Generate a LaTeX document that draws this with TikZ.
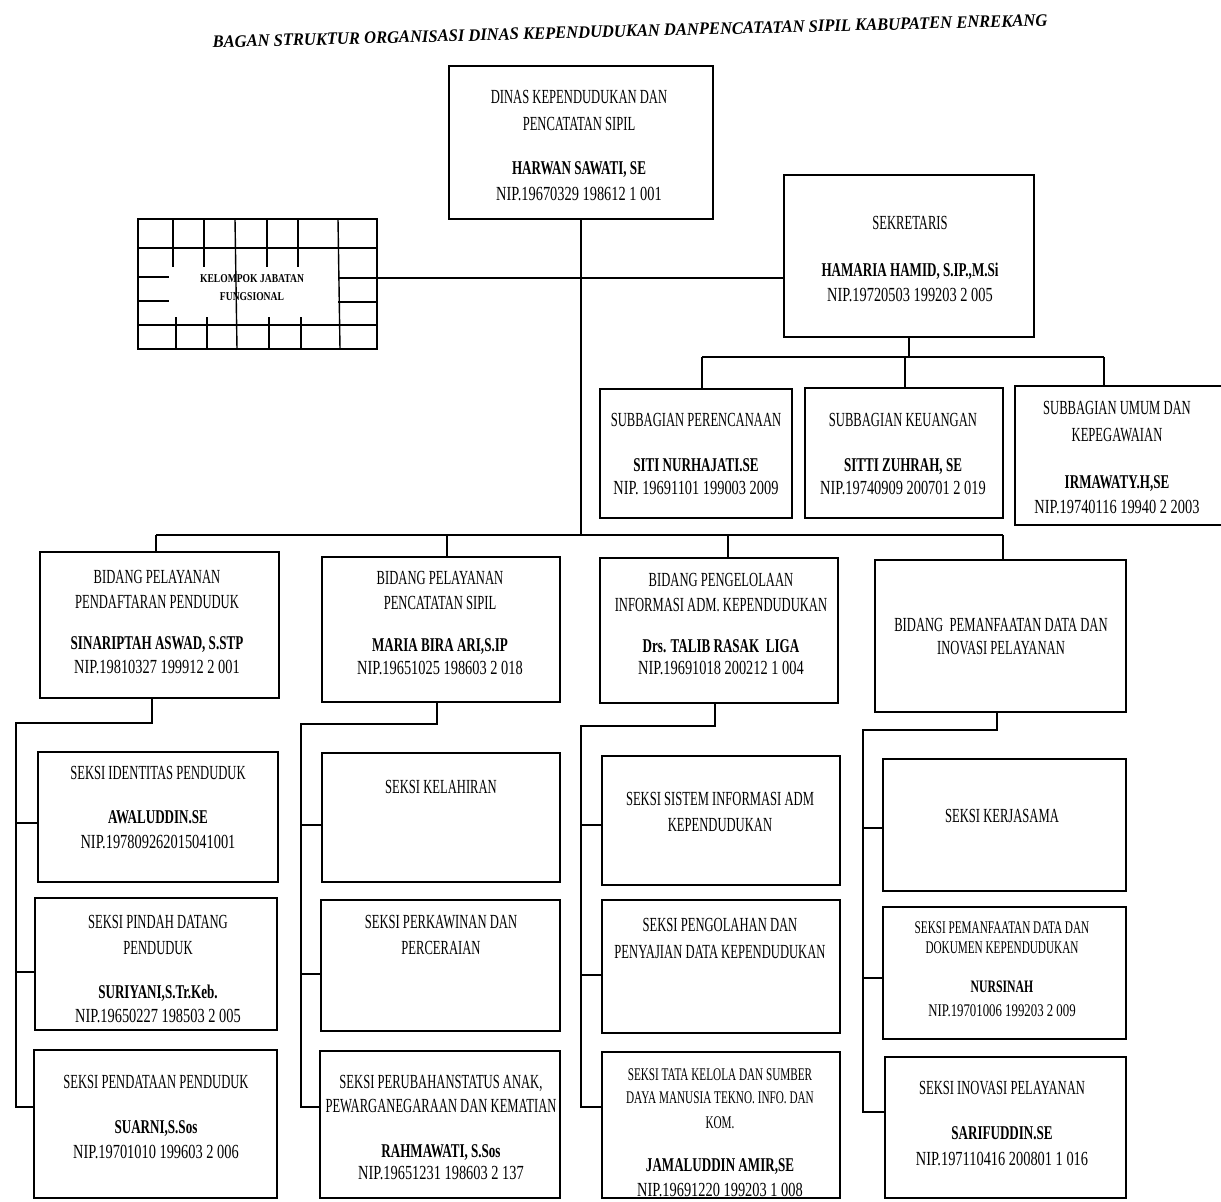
\documentclass[tikz,border=0pt]{standalone}
\usepackage{fontspec}
\setmainfont{Liberation Serif}[FakeStretch=0.63]
\newfontfamily\nipf{Liberation Serif}[FakeStretch=0.72]
\newfontfamily\namef{Liberation Serif}[FakeStretch=0.67]
\newfontfamily\titlef{Liberation Serif}[FakeStretch=0.945]
\newfontfamily\kelf{Liberation Serif}[FakeStretch=0.80]
\usetikzlibrary{fit}
\tikzset{
  box/.style={draw, line width=1.6pt, inner sep=0pt},
  openbox/.style={inner sep=0pt},
  conn/.style={line width=1.3pt},
  grid/.style={line width=1.4pt},
  tx/.style={inner sep=0pt, text height=13.2pt, text depth=0pt, font=\fontsize{20}{22}\selectfont},
  txs/.style={inner sep=0pt, text height=11.8pt, text depth=0pt, font=\fontsize{17.8}{20}\selectfont},
  nm/.style={inner sep=0pt, text height=12.9pt, text depth=0pt, font=\namef\bfseries\fontsize{19.5}{21}\selectfont},
  nms/.style={inner sep=0pt, text height=11.5pt, text depth=0pt, font=\namef\bfseries\fontsize{17.5}{19}\selectfont},
  nip/.style={inner sep=0pt, text height=13.2pt, text depth=0pt, font=\nipf\fontsize{20}{22}\selectfont},
  nips/.style={inner sep=0pt, text height=11.8pt, text depth=0pt, font=\nipf\fontsize{17.8}{20}\selectfont},
  kel/.style={inner sep=0pt, text height=8pt, text depth=0pt, font=\kelf\bfseries\fontsize{12}{14}\selectfont},
  ttl/.style={inner sep=0pt, text height=11.6pt, text depth=0pt, font=\titlef\bfseries\itshape\fontsize{17.5}{19}\selectfont}
}
\begin{document}
\begin{tikzpicture}[x=1pt,y=-1pt]
\fill[white] (0,0) rectangle (1221,1202);
\useasboundingbox (0,0) rectangle (1221,1202);

% title
\node[ttl, rotate=1.5] (title) at (630,31) {BAGAN STRUKTUR ORGANISASI DINAS KEPENDUDUKAN DANPENCATATAN SIPIL KABUPATEN ENREKANG};

% ---------- boxes ----------
\node[box, fit={(449,66) (713,219)}] (dinas) {};
\node[box, fit={(138,219) (377,349)}] (kel) {};
\node[box, fit={(784,175) (1034,337)}] (sek) {};
\node[box, fit={(600,389) (792,518)}] (sub1) {};
\node[box, fit={(805,388) (1003,518)}] (sub2) {};
\node[openbox, fit={(1015,386) (1221,525)}] (sub3) {};
\draw[line width=1.6pt] (sub3.north east) -- (sub3.north west) -- (sub3.south west) -- (sub3.south east);

\node[box, fit={(40,552) (279,698)}] (b1) {};
\node[box, fit={(322,557) (560,702)}] (b2) {};
\node[box, fit={(600,558) (838,703)}] (b3) {};
\node[box, fit={(875,560) (1126,712)}] (b4) {};

\node[box, fit={(38,752) (278,882)}] (s11) {};
\node[box, fit={(35,898) (277,1030)}] (s12) {};
\node[box, fit={(34,1050) (277,1198)}] (s13) {};
\node[box, fit={(322,753) (560,882)}] (s21) {};
\node[box, fit={(321,900) (560,1031)}] (s22) {};
\node[box, fit={(320,1051) (560,1198)}] (s23) {};
\node[box, fit={(602,756) (840,885)}] (s31) {};
\node[box, fit={(602,900) (840,1033)}] (s32) {};
\node[box, fit={(602,1052) (840,1198)}] (s33) {};
\node[box, fit={(883,759) (1126,891)}] (s41) {};
\node[box, fit={(883,907) (1126,1039)}] (s42) {};
\node[box, fit={(885,1057) (1126,1198)}] (s43) {};

% ---------- kelompok grid ----------
\coordinate (kg1) at (0,248);
\coordinate (kg2) at (0,325);
\draw[grid] (kel.west |- kg1) -- (kel.east |- kg1);
\draw[grid] (kel.west |- kg2) -- (kel.east |- kg2);
\foreach \gx in {173,204,267,298} \draw[grid] (\gx,219) -- (\gx,267);
\foreach \gx in {176,207,269,301} \draw[grid] (\gx,317) -- (\gx,349);
\draw[grid] (235,219) -- (237,349);
\draw[grid] (338,219) -- (340,349);
\draw[grid] (138,277) -- (169,277);
\draw[grid] (138,301) -- (169,301);
\draw[grid] (338,278) -- (377,278);
\draw[grid] (338,302) -- (377,302);
\node[kel] (kt1) at (252,278) {KELOMPOK JABATAN};
\node[kel] (kt2) at (252,296) {FUNGSIONAL};

% ---------- connectors ----------
\coordinate (lvl) at (0,278);
\coordinate (bus) at (0,535);
\draw[conn] (dinas.south) -- (dinas.south |- bus);
\draw[conn] (kel.east |- lvl) -- (sek.west |- lvl);

\coordinate (sbL) at (702,357);
\coordinate (sbM) at (905,357);
\coordinate (sbR) at (1104,357);
\draw[conn] (sek.south) -- (sek.south |- sbM);
\draw[conn] (sbL) -- (sbR);
\draw[conn] (sbL) -- (sbL |- sub1.north);
\draw[conn] (sbM) -- (sbM |- sub2.north);
\draw[conn] (sbR) -- (sbR |- sub3.north);

\coordinate (bb1) at (156,535);
\coordinate (bb2) at (447,535);
\coordinate (bb3) at (728,535);
\coordinate (bb4) at (1003,535);
\draw[conn] (bb1) -- (bb4);
\draw[conn] (bb1) -- (bb1 |- b1.north);
\draw[conn] (bb2) -- (bb2 |- b2.north);
\draw[conn] (bb3) -- (bb3 |- b3.north);
\draw[conn] (bb4) -- (bb4 |- b4.north);

% column 1
\coordinate (c1a) at (152,723);
\coordinate (c1b) at (16,723);
\coordinate (k11) at (16,823);
\coordinate (k12) at (16,972);
\coordinate (k13) at (16,1107);
\draw[conn] (c1a |- b1.south) -- (c1a) -- (c1b) -- (k13) -- (k13 -| s13.west);
\draw[conn] (k11) -- (k11 -| s11.west);
\draw[conn] (k12) -- (k12 -| s12.west);
% column 2
\coordinate (c2a) at (437,724);
\coordinate (c2b) at (301,724);
\coordinate (k21) at (301,825);
\coordinate (k22) at (301,974);
\coordinate (k23) at (301,1107);
\draw[conn] (c2a |- b2.south) -- (c2a) -- (c2b) -- (k23) -- (k23 -| s23.west);
\draw[conn] (k21) -- (k21 -| s21.west);
\draw[conn] (k22) -- (k22 -| s22.west);
% column 3
\coordinate (c3a) at (715,726);
\coordinate (c3b) at (581,726);
\coordinate (k31) at (581,825);
\coordinate (k32) at (581,975);
\coordinate (k33) at (581,1107);
\draw[conn] (c3a |- b3.south) -- (c3a) -- (c3b) -- (k33) -- (k33 -| s33.west);
\draw[conn] (k31) -- (k31 -| s31.west);
\draw[conn] (k32) -- (k32 -| s32.west);
% column 4
\coordinate (c4a) at (997,730);
\coordinate (c4b) at (863,730);
\coordinate (k41) at (863,828);
\coordinate (k42) at (863,978);
\coordinate (k43) at (863,1112);
\draw[conn] (c4a |- b4.south) -- (c4a) -- (c4b) -- (k43) -- (k43 -| s43.west);
\draw[conn] (k41) -- (k41 -| s41.west);
\draw[conn] (k42) -- (k42 -| s42.west);

% ---------- texts ----------
\node[tx] (d1) at (579,97) {DINAS KEPENDUDUKAN DAN};
\node[tx] (d2) at (579,124) {PENCATATAN SIPIL};
\node[nm] (d3) at (579,168) {HARWAN SAWATI, SE};
\node[nip] (d4) at (579,194) {NIP.19670329 198612 1 001};

\node[tx] (e1) at (910,223) {SEKRETARIS};
\node[nm] (e2) at (910,270) {HAMARIA HAMID, S.IP.,M.Si};
\node[nip] (e3) at (910,295) {NIP.19720503 199203 2 005};

\node[tx] (u11) at (696,420) {SUBBAGIAN PERENCANAAN};
\node[nm] (u12) at (696,465) {SITI NURHAJATI.SE};
\node[nip] (u13) at (696,488) {NIP. 19691101 199003 2009};

\node[tx] (u21) at (903,420) {SUBBAGIAN KEUANGAN};
\node[nm] (u22) at (903,465) {SITTI ZUHRAH, SE};
\node[nip] (u23) at (903,488) {NIP.19740909 200701 2 019};

\node[tx] (u31) at (1117,408) {SUBBAGIAN UMUM DAN};
\node[tx] (u32) at (1117,435) {KEPEGAWAIAN};
\node[nm] (u33) at (1117,482) {IRMAWATY.H,SE};
\node[nip] (u34) at (1117,507) {NIP.19740116 19940 2 2003};

\node[tx] (g11) at (157,577) {BIDANG PELAYANAN};
\node[tx] (g12) at (157,602) {PENDAFTARAN PENDUDUK};
\node[nm] (g13) at (157,643) {SINARIPTAH ASWAD, S.STP};
\node[nip] (g14) at (157,667) {NIP.19810327 199912 2 001};

\node[tx] (g21) at (440,578) {BIDANG PELAYANAN};
\node[tx] (g22) at (440,603) {PENCATATAN SIPIL};
\node[nm] (g23) at (440,645) {MARIA BIRA ARI,S.IP};
\node[nip] (g24) at (440,668) {NIP.19651025 198603 2 018};

\node[tx] (g31) at (721,580) {BIDANG PENGELOLAAN};
\node[tx] (g32) at (721,605) {INFORMASI ADM. KEPENDUDUKAN};
\node[nm] (g33) at (721,646) {Drs. TALIB RASAK\ \ LIGA};
\node[nip] (g34) at (721,668) {NIP.19691018 200212 1 004};

\node[tx] (g41) at (1001,625) {BIDANG\ \ PEMANFAATAN DATA DAN};
\node[tx] (g42) at (1001,648) {INOVASI PELAYANAN};

\node[tx] (t111) at (158,773) {SEKSI IDENTITAS PENDUDUK};
\node[nm] (t112) at (158,817) {AWALUDDIN.SE};
\node[nip] (t113) at (158,842) {NIP.197809262015041001};

\node[tx] (t121) at (158,922) {SEKSI PINDAH DATANG};
\node[tx] (t122) at (158,948) {PENDUDUK};
\node[nm] (t123) at (158,992) {SURIYANI,S.Tr.Keb.};
\node[nip] (t124) at (158,1016) {NIP.19650227 198503 2 005};

\node[tx] (t131) at (156,1082) {SEKSI PENDATAAN PENDUDUK};
\node[nm] (t132) at (156,1127) {SUARNI,S.Sos};
\node[nip] (t133) at (156,1152) {NIP.19701010 199603 2 006};

\node[tx] (t211) at (441,787) {SEKSI KELAHIRAN};

\node[tx] (t221) at (441,922) {SEKSI PERKAWINAN DAN};
\node[tx] (t222) at (441,948) {PERCERAIAN};

\node[tx] (t231) at (441,1082) {SEKSI PERUBAHANSTATUS ANAK,};
\node[tx] (t232) at (441,1106) {PEWARGANEGARAAN DAN KEMATIAN};
\node[nm] (t233) at (441,1151) {RAHMAWATI, S.Sos};
\node[nip] (t234) at (441,1173) {NIP.19651231 198603 2 137};

\node[tx] (t311) at (720,799) {SEKSI SISTEM INFORMASI ADM};
\node[tx] (t312) at (720,825) {KEPENDUDUKAN};

\node[tx] (t321) at (720,925) {SEKSI PENGOLAHAN DAN};
\node[tx] (t322) at (720,952) {PENYAJIAN DATA KEPENDUDUKAN};

\node[txs] (t331) at (720,1075) {SEKSI TATA KELOLA DAN SUMBER};
\node[txs] (t332) at (720,1098) {DAYA MANUSIA TEKNO. INFO. DAN};
\node[txs] (t333) at (720,1123) {KOM.};
\node[nm] (t334) at (720,1165) {JAMALUDDIN AMIR,SE};
\node[nip] (t335) at (720,1190) {NIP.19691220 199203 1 008};

\node[tx] (t411) at (1002,816) {SEKSI KERJASAMA};

\node[txs] (t421) at (1002,928) {SEKSI PEMANFAATAN DATA DAN};
\node[txs] (t422) at (1002,948) {DOKUMEN KEPENDUDUKAN};
\node[nms] (t423) at (1002,987) {NURSINAH};
\node[nips] (t424) at (1002,1011) {NIP.19701006 199203 2 009};

\node[tx] (t431) at (1002,1088) {SEKSI INOVASI PELAYANAN};
\node[nm] (t432) at (1002,1133) {SARIFUDDIN.SE};
\node[nip] (t433) at (1002,1159) {NIP.197110416 200801 1 016};
\end{tikzpicture}
\end{document}
